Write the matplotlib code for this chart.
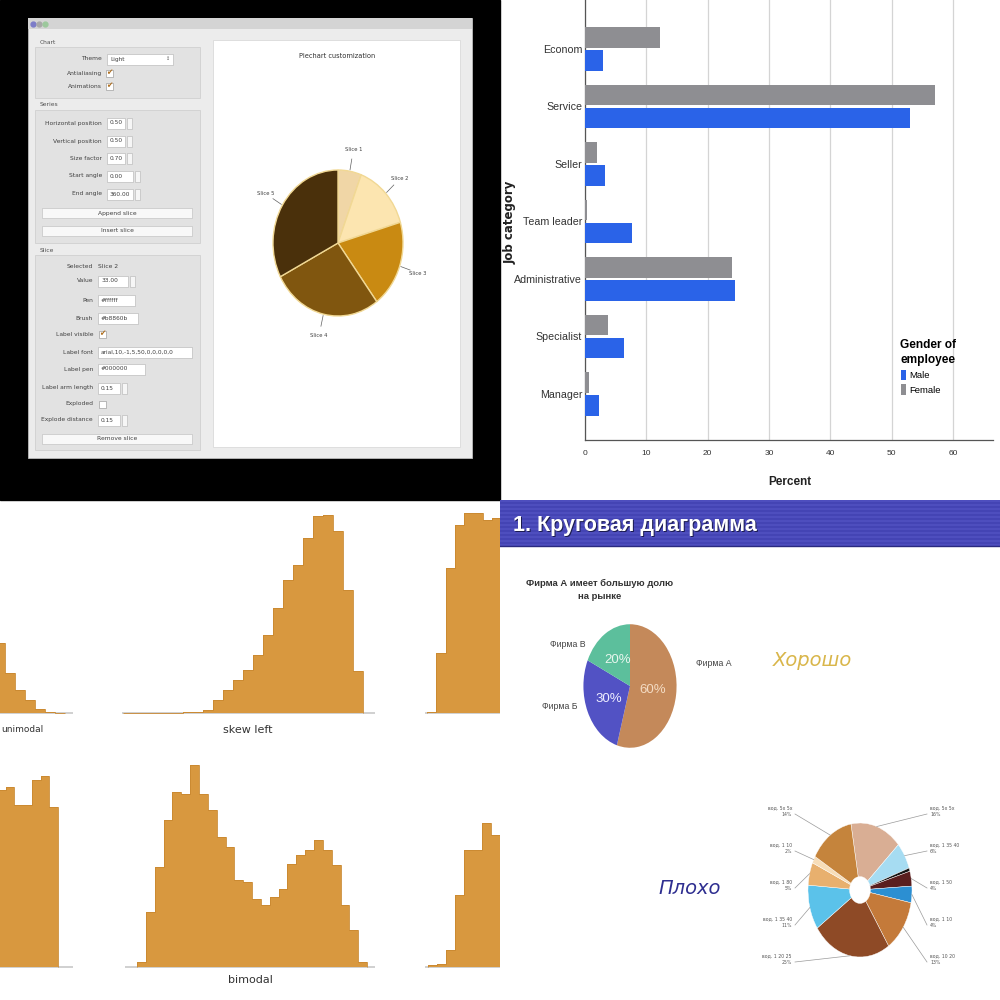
import matplotlib
matplotlib.use("Agg")
import matplotlib.pyplot as plt
import numpy as np
from matplotlib.patches import Rectangle

W = H = 1000
ARIAL = ["Liberation Sans", "DejaVu Sans"]

# ---- bar chart: job category by gender
job_categories = ["Econom", "Service", "Seller", "Team leader", "Administrative", "Specialist", "Manager"]
male_pct = [3.0, 53.0, 3.2, 7.7, 24.5, 6.3, 2.3]
female_pct = [12.3, 57.0, 2.0, 0.3, 24.0, 3.8, 0.6]
pct_ticks = [0, 10, 20, 30, 40, 50, 60]

# ---- Qt pie customization demo
qt_labels = ["Slice 1", "Slice 2", "Slice 3", "Slice 4", "Slice 5"]
qt_values = [5.8, 14.6, 19.4, 27.5, 32.6]
qt_colors = ["#F0D6A6", "#FCE5B0", "#C98A12", "#80560F", "#4A300B"]

# ---- histogram panels (bin heights)
hist_unimodal = [70, 40, 23, 13, 4, 1, 0.5]
hist_skew_left = [0.3, 0.3, 0.3, 0.3, 0.5, 0.5, 1, 1.5, 3, 13, 23, 33, 43, 58, 78,
                  105, 133, 148, 175, 197, 198, 182, 123, 42]
hist_top_right = [1, 60, 145, 188, 200, 200, 193, 195]
hist_bottom_left = [177, 180, 162, 162, 187, 191, 160]
hist_bimodal = [5, 55, 100, 147, 175, 173, 202, 173, 157, 130, 120, 87, 85, 68, 62,
                70, 78, 103, 112, 117, 127, 117, 102, 62, 37, 5]
hist_bottom_right = [2, 3, 17, 72, 117, 117, 144, 132]

# ---- slide: good pie
firm_labels = ["Фирма А", "Фирма Б", "Фирма В"]
firm_values = [60, 30, 20]
firm_colors = ["#C4895A", "#5252C4", "#5CBF9C"]

# ---- slide: bad donut
donut_values = [16, 6.5, 0.8, 3.6, 4.0, 12.7, 24.7, 10.8, 5.5, 1.7, 13.9]
donut_colors = ["#D9AE94", "#A6DCF2", "#151515", "#5A1E1E", "#2C8FD2", "#C47A3A",
                "#8E4A26", "#5BC2EA", "#E8B06E", "#F7DDB8", "#C5843C"]
donut_names = ["вод. 5х 5х", "вод. 1 35 40", "", "вод. 1 50", "вод. 1 10", "вод. 10 20",
               "вод. 1 20 25", "вод. 1 35 40", "вод. 1 80", "вод. 1 10", "вод. 5х 5х"]
donut_right = [0, 1, 3, 4, 5]
donut_left = [10, 9, 8, 7, 6]


def rect(x0, y0, x1, y1):
    return [x0 / W, 1 - y1 / H, (x1 - x0) / W, (y1 - y0) / H]


fig = plt.figure(figsize=(10, 10), dpi=100)
bg = fig.add_axes([0, 0, 1, 1], zorder=0)
bg.set_xlim(0, W)
bg.set_ylim(H, 0)
bg.axis("off")

# ================= top-left: Qt window =================
bg.add_patch(Rectangle((0, 0), 500, 500, color="black"))
bg.add_patch(Rectangle((28, 18), 444, 440, fc="#ECECEC", ec="#BBBBBB", lw=0.6))
bg.add_patch(Rectangle((28, 18), 444, 11, fc="#D4D4D4", ec="none"))
for bx, bc in zip([33, 39, 45], ["#7C7CC8", "#A8A8A8", "#9CC89C"]):
    bg.plot(bx, 23.5, "o", ms=3.5, color=bc)
for gy0, gh in [(47, 51), (110, 133), (255, 195)]:
    bg.add_patch(Rectangle((35, gy0), 165, gh, fc="#E2E2E2", ec="#D0D0D0", lw=0.6))
for gy, gt in [(42, "Chart"), (105, "Series"), (250, "Slice")]:
    bg.text(40, gy, gt, fontsize=4.3, color="#505050", va="center")
bg.add_patch(Rectangle((213, 40), 247, 407, fc="white", ec="#DADADA", lw=0.6))


def ui_label(x, y, s):
    bg.text(x, y, s, ha="right", va="center", fontsize=4.3, color="#404040")


def ui_box(x0, x1, y, s, spin=False):
    bg.add_patch(Rectangle((x0, y - 5.5), x1 - x0, 11, fc="white", ec="#BDBDBD", lw=0.5))
    bg.text(x0 + 3, y, s, va="center", fontsize=4.2, color="#404040")
    if spin:
        bg.add_patch(Rectangle((x1 + 2, y - 5.5), 5, 11, fc="#F6F6F6", ec="#BDBDBD", lw=0.5))


def ui_check(x, y, checked=True):
    bg.add_patch(Rectangle((x, y - 3.5), 7, 7, fc="white", ec="#A0A0A0", lw=0.5))
    if checked:
        bg.text(x + 3.5, y - 0.5, "\u2714", ha="center", va="center", fontsize=5.5, color="#B07020")


def ui_button(y, s):
    bg.add_patch(Rectangle((42, y - 5), 150, 10, fc="#F8F8F8", ec="#C4C4C4", lw=0.5))
    bg.text(117, y, s, ha="center", va="center", fontsize=4.3, color="#404040")


ui_label(102, 59, "Theme")
ui_box(107, 173, 59, "Light")
bg.text(168, 59, "\u2195", ha="center", va="center", fontsize=3.5, color="#606060")
ui_label(102, 73, "Antialiasing")
ui_check(106, 73)
ui_label(102, 86, "Animations")
ui_check(106, 86)

for y, lab, val, x1 in [(123, "Horizontal position", "0.50", 125),
                        (141, "Vertical position", "0.50", 125),
                        (158, "Size factor", "0.70", 125),
                        (176, "Start angle", "0.00", 133),
                        (194, "End angle", "360.00", 133)]:
    ui_label(102, y, lab)
    ui_box(107, x1, y, val, spin=True)
ui_button(213, "Append slice")
ui_button(231, "Insert slice")

ui_label(93, 266, "Selected")
bg.text(98, 266, "Slice 2", va="center", fontsize=4.3, color="#404040")
ui_label(93, 281, "Value")
ui_box(98, 128, 281, "33.00", spin=True)
ui_label(93, 300, "Pen")
ui_box(98, 135, 300, "#ffffff")
ui_label(93, 318, "Brush")
ui_box(98, 138, 318, "#b8860b")
ui_label(93, 334, "Label visible")
ui_check(99, 334)
ui_label(93, 352, "Label font")
ui_box(98, 192, 352, "arial,10,-1,5,50,0,0,0,0,0")
ui_label(93, 369, "Label pen")
ui_box(98, 145, 369, "#000000")
ui_label(93, 388, "Label arm length")
ui_box(98, 120, 388, "0.15", spin=True)
ui_label(93, 404, "Exploded")
ui_check(99, 404, checked=False)
ui_label(93, 420, "Explode distance")
ui_box(98, 120, 420, "0.15", spin=True)
ui_button(439, "Remove slice")

bg.text(337, 56, "Piechart customization", ha="center", va="center", fontsize=4.8, color="#303030")

ax_qt = fig.add_axes(rect(273, 170, 403, 316), zorder=2)
wedges, _ = ax_qt.pie(qt_values, colors=qt_colors, startangle=90, counterclock=False,
                      radius=1, wedgeprops=dict(edgecolor="#F1D894", linewidth=1.0))
ax_qt.set_aspect("auto")
ax_qt.set_xlim(-1, 1)
ax_qt.set_ylim(-1, 1)
for w, lab in zip(wedges, qt_labels):
    th = np.deg2rad((w.theta1 + w.theta2) / 2)
    c, s = np.cos(th), np.sin(th)
    ax_qt.plot([1.02 * c, 1.17 * c], [1.02 * s, 1.17 * s], color="#606060", lw=0.5, clip_on=False)
    ax_qt.text(1.3 * c, 1.3 * s, lab, ha="center", va="center", fontsize=3.8,
               color="#404040", clip_on=False)

# ================= top-right: bar chart =================
ax_bar = fig.add_axes(rect(585, 0, 993, 440), zorder=2)
ypos = np.arange(len(job_categories))
ax_bar.barh(ypos - 0.2, female_pct, height=0.36, color="#8E8E92", label="Female", zorder=3)
ax_bar.barh(ypos + 0.2, male_pct, height=0.36, color="#2A63E8", label="Male", zorder=3)
ax_bar.set_xlim(0, 66.5)
ax_bar.set_ylim(6.8, -0.85)
ax_bar.set_xticks(pct_ticks)
ax_bar.set_yticks(ypos)
ax_bar.set_yticklabels(job_categories, fontsize=7.7, color="#333333", family=ARIAL)
ax_bar.tick_params(axis="x", length=0, labelsize=6, labelcolor="#333333", pad=7)
for t in ax_bar.get_xticklabels():
    t.set_family(ARIAL)
ax_bar.tick_params(axis="y", length=0, pad=2)
ax_bar.grid(axis="x", color="#D4D4D4", lw=0.9, zorder=0)
for side in ["top", "right"]:
    ax_bar.spines[side].set_visible(False)
for side in ["left", "bottom"]:
    ax_bar.spines[side].set_color("#555555")
    ax_bar.spines[side].set_linewidth(0.9)
h, l = ax_bar.get_legend_handles_labels()
leg = ax_bar.legend(h[::-1], l[::-1], title="Gender of\nemployee", loc="upper left",
                    bbox_to_anchor=(892 / W, 1 - 330 / H), bbox_transform=fig.transFigure,
                    frameon=False, title_fontsize=8.6, alignment="left",
                    handlelength=0.6, handleheight=1.3, handletextpad=0.3, labelspacing=0.45,
                    prop=dict(family=ARIAL, size=6.8))
leg.get_title().set_fontweight("bold")
leg.get_title().set_family(ARIAL)
leg.get_title().set_linespacing(1.35)
fig.text(790 / W, 1 - 482 / H, "Percent", ha="center", va="center", fontsize=8.5,
         fontweight="bold", color="#222222", family=ARIAL)
fig.text(510 / W, 1 - 222 / H, "Job category", ha="center", va="center", rotation=90,
         fontsize=8.5, fontweight="bold", color="#222222")

# ================= bottom-left: histograms =================
HIST_COLOR = "#D8983F"


def hist_panel(heights, x_start, bin_w, baseline, x0, x1):
    ax = fig.add_axes(rect(x0, baseline - 215, x1, baseline + 2), zorder=2)
    edges = x_start + bin_w * np.arange(len(heights) + 1)
    ax.stairs(heights, edges, fill=True, facecolor=HIST_COLOR, edgecolor="none")
    ax.stairs(heights, edges, color="#C98830", lw=0.6)
    ax.axhline(0, color="#C8C8C8", lw=1.2, zorder=0)
    ax.set_xlim(x0, x1)
    ax.set_ylim(-2, 215)
    ax.axis("off")
    return ax


hist_panel(hist_unimodal, -5, 10, 713, -10, 73)
hist_panel(hist_skew_left, 123, 10, 713, 122, 375)
hist_panel(hist_top_right, 427, 9.25, 713, 425, 500)
hist_panel(hist_bottom_left, -3, 8.7, 967, -10, 73)
hist_panel(hist_bimodal, 137, 8.85, 967, 125, 375)
hist_panel(hist_bottom_right, 428, 9, 967, 425, 500)
bg.text(1, 730, "unimodal", ha="left", va="center", fontsize=6.5, color="#333333")
bg.text(248, 730, "skew left", ha="center", va="center", fontsize=8, color="#333333")
bg.text(250, 980, "bimodal", ha="center", va="center", fontsize=8, color="#333333")

# ================= bottom-right: slide =================
rows = 46
stripe = np.zeros((rows, 1, 3))
base = np.array([0x44, 0x44, 0xB4]) / 255
light = np.array([0x4E, 0x4E, 0xBE]) / 255
for i in range(rows):
    stripe[i, 0] = light if (i // 2) % 2 == 0 else base
bg.imshow(stripe, extent=(500, 1000, 546, 500), aspect="auto", interpolation="nearest", zorder=1)
bg.set_xlim(0, W)
bg.set_ylim(H, 0)
bg.plot([500, 1000], [546, 546], color="#2A2A80", lw=1, zorder=2)
bg.text(514.5, 526.5, "1. Круговая диаграмма", fontsize=15.5, fontweight="bold",
        color="#1C1C50", va="center", family=ARIAL, zorder=3)
bg.text(513, 525, "1. Круговая диаграмма", fontsize=15.5, fontweight="bold",
        color="white", va="center", family=ARIAL, zorder=4)

fig.text(600 / W, 1 - 590 / H, "Фирма А имеет большую долю\nна рынке", ha="center",
         va="center", fontsize=6.8, fontweight="bold", color="#333333", linespacing=1.7,
         family=ARIAL)

ax_good = fig.add_axes(rect(582.5, 623, 677.5, 749), zorder=2)
total = sum(firm_values)
_, good_texts, good_pcts = ax_good.pie(
    firm_values, colors=firm_colors, labels=firm_labels, startangle=90, counterclock=False,
    labeldistance=1.25, pctdistance=0.5, autopct=lambda p: f"{p * total / 100:.0f}%",
    textprops=dict(fontsize=6.3, color="#444444", family=ARIAL))
ax_good.set_aspect("auto")
ax_good.set_xlim(-1.02, 1.02)
ax_good.set_ylim(-1.02, 1.02)


def px_to_good(x, y):
    return (x - 630) / 47.5, -(y - 686) / 63


# label anchors nudged to where the slide puts them
for t, (lx, ly) in zip(good_texts, [(715, 663), (558, 707), (567, 644)]):
    t.set_position(px_to_good(lx, ly))
    t.set_ha("center")
    t.set_va("center")
for t, tc in zip(good_pcts, ["#F4DCC4", "#EEEEFF", "#E8F6EE"]):
    t.set_color(tc)
    t.set_fontsize(9.5)

fig.text(812 / W, 1 - 660 / H, "Хорошо", ha="center", va="center", fontsize=14,
         style="italic", color="#D9B64A")
fig.text(690 / W, 1 - 888 / H, "Плохо", ha="center", va="center", fontsize=14,
         style="italic", color="#2E2E90")

ax_bad = fig.add_axes(rect(808, 823, 912, 957), zorder=2)
dwedges, _ = ax_bad.pie(donut_values, colors=donut_colors, startangle=100, counterclock=False,
                        wedgeprops=dict(width=0.8, edgecolor="#FFFFFF", linewidth=0.3))
ax_bad.set_aspect("auto")
ax_bad.set_xlim(-1, 1)
ax_bad.set_ylim(-1, 1)
dtotal = sum(donut_values)


def px_to_donut(x, y):
    return (x - 860) / 52, -(y - 890) / 67


for side, idxs, lx in [("right", donut_right, 930), ("left", donut_left, 792)]:
    for k, i in enumerate(idxs):
        ly = 811 + 37 * k
        w = dwedges[i]
        th = np.deg2rad((w.theta1 + w.theta2) / 2)
        ex, ey = np.cos(th), np.sin(th)
        tx, ty = px_to_donut(lx + (-3 if side == "right" else 3), ly + 3)
        ax_bad.plot([ex, tx], [ey, ty], color="#9A9A9A", lw=0.5, clip_on=False)
        dx, dy = px_to_donut(lx, ly)
        ax_bad.text(dx, dy, f"{donut_names[i]}\n{donut_values[i] / dtotal * 100:.0f}%",
                    ha="left" if side == "right" else "right", va="center", fontsize=3.3,
                    color="#555555", clip_on=False, linespacing=1.6)

fig.savefig("out.png", dpi=100)
